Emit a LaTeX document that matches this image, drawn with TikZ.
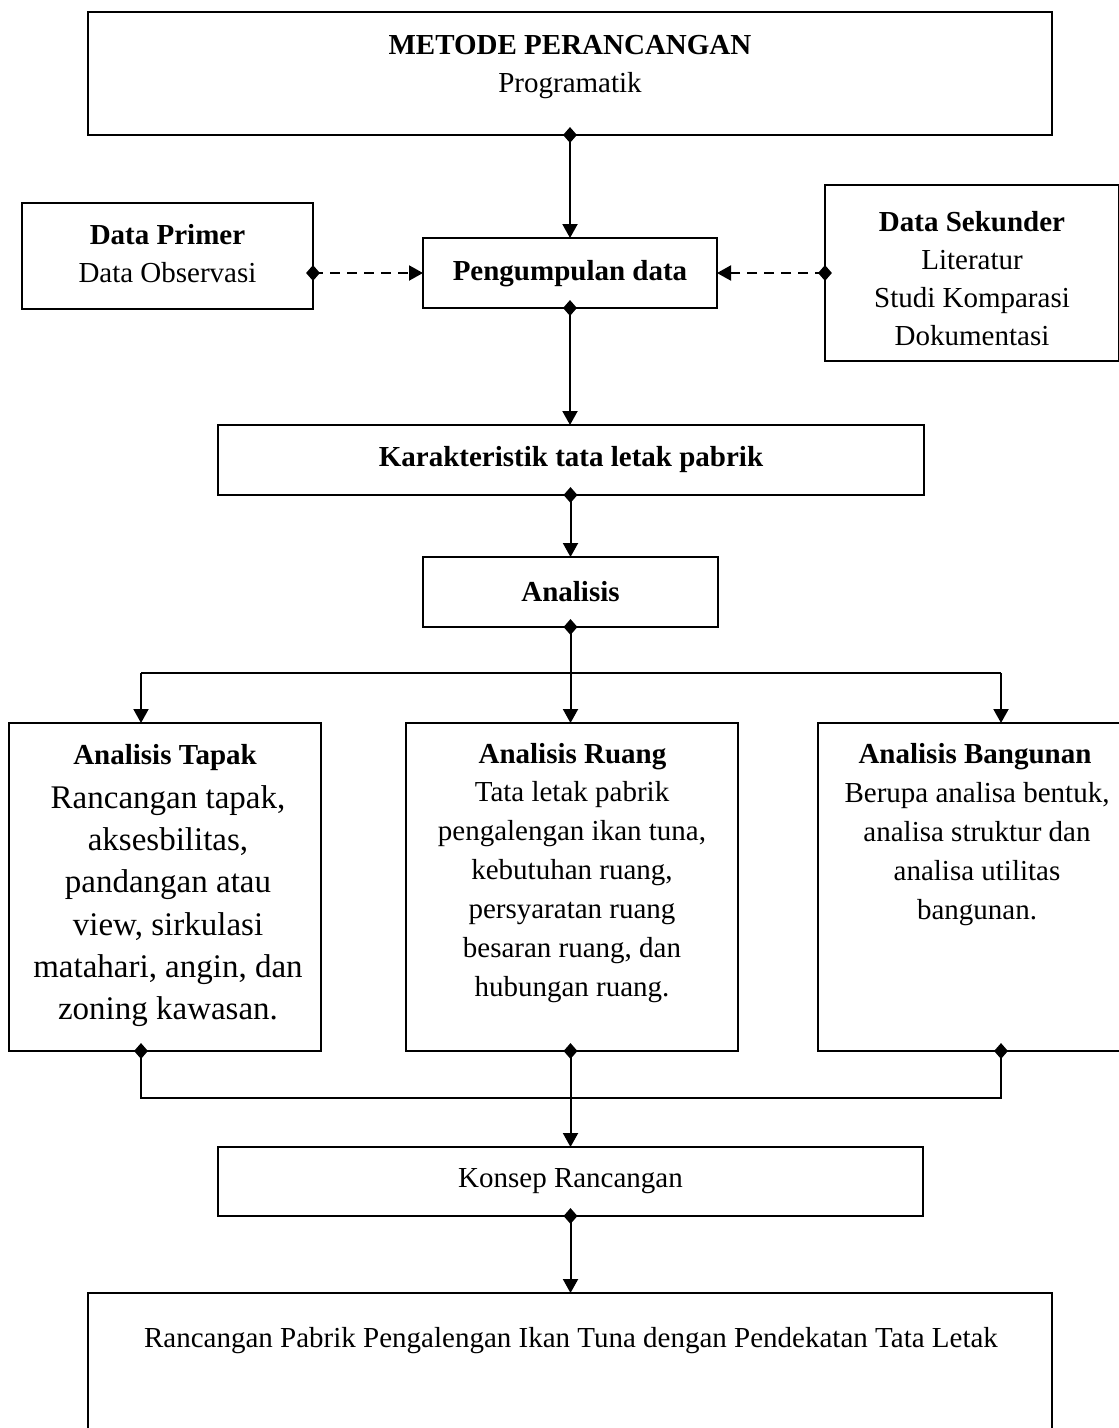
\documentclass[tikz,border=0pt]{standalone}
\usepackage{fontspec}
\setmainfont{Liberation Serif}
\usetikzlibrary{arrows.meta,shapes.geometric,calc}
\tikzset{
  box/.style={draw=black, line width=2.2pt, inner sep=0pt, outer sep=0pt, rectangle},
  lbl/.style={font=\fontsize{29}{38}\selectfont, align=center, inner sep=0pt},
  lblR/.style={font=\fontsize{29}{39}\selectfont, align=center, inner sep=0pt},
  lblT/.style={font=\fontsize{33}{42.2}\selectfont, align=center, inner sep=0pt},
  conn/.style={line width=2pt, -{Triangle[length=14pt,width=15pt]}},
  plainline/.style={line width=2pt},
  dashconn/.style={conn, dash pattern=on 10pt off 7pt},
  dia/.style={shape=diamond, fill=black, draw=none, inner sep=0pt, minimum width=14pt, minimum height=16pt}
}
\begin{document}
\begin{tikzpicture}[x=1pt,y=-1pt]
\clip (0,0) rectangle (1119,1428);
\fill[white] (0,0) rectangle (1119,1428);

% boxes
\node[box, minimum width=964pt, minimum height=123pt] (top) at (570,73.5) {};
\node[box, minimum width=291pt, minimum height=106pt] (prim) at (167.5,256) {};
\node[box, minimum width=294pt, minimum height=70pt] (pd) at (570,273) {};
\node[box, minimum width=294pt, minimum height=176pt] (sek) at (972,273) {};
\node[box, minimum width=706pt, minimum height=70pt] (kar) at (571,460) {};
\node[box, minimum width=295pt, minimum height=70pt] (ana) at (570.5,592) {};
\node[box, minimum width=312pt, minimum height=328pt] (tap) at (165,887) {};
\node[box, minimum width=332pt, minimum height=328pt] (rua) at (572,887) {};
\node[box, minimum width=317pt, minimum height=328pt] (ban) at (976.5,887) {};
\node[box, minimum width=705pt, minimum height=69pt] (kon) at (570.5,1181.5) {};
\node[box, minimum width=964pt, minimum height=157pt] (fin) at (570,1371.5) {};

% texts
\node[lbl] (ttop) at (570,67) {\textbf{METODE PERANCANGAN}\\Programatik};
\node[lbl] (tprim) at (167.5,254) {\textbf{Data Primer}\\Data Observasi};
\node[lbl] (tpd) at (570,274) {\textbf{Pengumpulan data}};
\node[lbl] (tsek) at (972,279) {\textbf{Data Sekunder}\\Literatur\\Studi Komparasi\\Dokumentasi};
\node[lbl] (tkar) at (571,460) {\textbf{Karakteristik tata letak pabrik}};
\node[lbl] (tana) at (570.5,592) {\textbf{Analisis}};
\node[lbl] (htap) at (165,758) {\textbf{Analisis Tapak}};
\node[lblT] (btap) at (168,906) {Rancangan tapak,\\aksesbilitas,\\pandangan atau\\view, sirkulasi\\matahari, angin, dan\\zoning kawasan.};
\node[lbl] (hrua) at (572.5,757) {\textbf{Analisis Ruang}};
\node[lblR] (brua) at (572,892) {Tata letak pabrik\\pengalengan ikan tuna,\\kebutuhan ruang,\\persyaratan ruang\\besaran ruang, dan\\hubungan ruang.};
\node[lbl] (hban) at (975,757) {\textbf{Analisis Bangunan}};
\node[lblR] (bban) at (977,854) {Berupa analisa bentuk,\\analisa struktur dan\\analisa utilitas\\bangunan.};
\node[lbl] (tkon) at (570.5,1181) {Konsep Rancangan};
\node[lbl] (tfin) at (571,1341) {Rancangan Pabrik Pengalengan Ikan Tuna dengan Pendekatan Tata Letak};

% branch coordinates
\coordinate (bl) at (141,673);
\coordinate (br) at (1001,673);
\coordinate (bc) at (ana.south |- bl);
\coordinate (ml) at (141,1098);
\coordinate (mr) at (1001,1098);

% connectors
\draw[conn] (top.south) -- (pd.north);
\draw[dashconn] (pd.west -| prim.east) -- (pd.west);
\draw[dashconn] (sek.west) -- (pd.east);
\draw[conn] (pd.south) -- (kar.north -| pd.south);
\draw[conn] (kar.south -| ana.north) -- (ana.north);
\draw[plainline] (ana.south) -- (bc);
\draw[conn] (bl) -- (bl |- tap.north);
\draw[plainline] (bl) -- (br);
\draw[conn] (br) -- (br |- ban.north);
\draw[conn] (bc) -- (bc |- rua.north);
\draw[plainline] (bl |- tap.south) -- (ml) -- (mr) -- (br |- ban.south);
\draw[conn] (bc |- rua.south) -- (bc |- kon.north);
\draw[conn] (kon.south) -- (kon.south |- fin.north);

% diamonds
\node[dia] (d1) at (top.south) {};
\node[dia] (d2) at (pd.west -| prim.east) {};
\node[dia] (d3) at (sek.west) {};
\node[dia] (d4) at (pd.south) {};
\node[dia] (d5) at (kar.south -| ana.north) {};
\node[dia] (d6) at (ana.south) {};
\node[dia] (d7) at (bl |- tap.south) {};
\node[dia] (d8) at (bc |- rua.south) {};
\node[dia] (d9) at (br |- ban.south) {};
\node[dia] (d10) at (kon.south) {};
\end{tikzpicture}
\end{document}
